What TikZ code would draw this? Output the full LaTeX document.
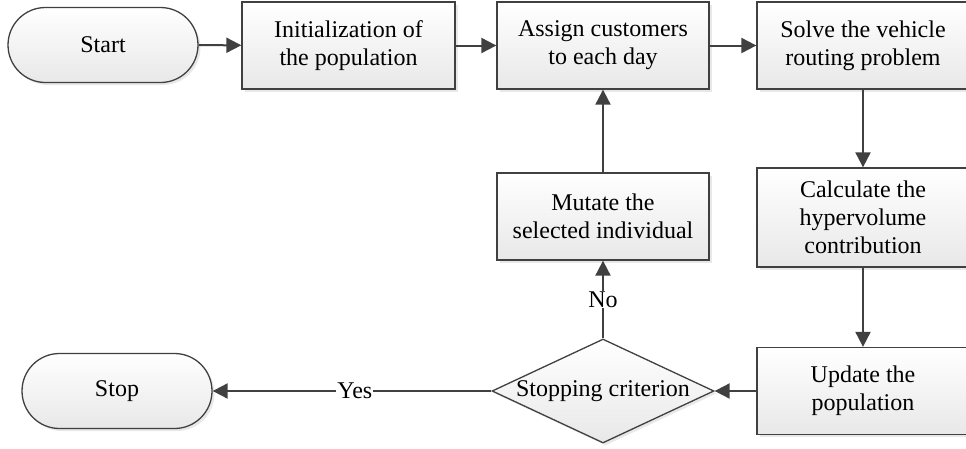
\documentclass[tikz,border=0pt]{standalone}
\usepackage{fontspec}
\setmainfont{Liberation Serif}
\usetikzlibrary{arrows.meta,shapes.geometric,shadows}
\definecolor{edgegray}{HTML}{404040}
\definecolor{fillbot}{HTML}{E8E8E8}
\begin{document}
\begin{tikzpicture}[x=1pt,y=-1pt,
  base/.style={draw=edgegray,line width=1.3pt,top color=white,bottom color=fillbot,
    drop shadow={opacity=0.18,shadow xshift=2.5pt,shadow yshift=-2.5pt},
    font=\fontsize{24}{28}\selectfont,align=center,inner sep=0pt},
  procbox/.style={base,rectangle,minimum width=212pt,minimum height=87pt},
  termbox/.style={base,rectangle,rounded corners=37.5pt,minimum width=190pt,minimum height=75pt},
  decbox/.style={base,diamond,minimum width=222pt,minimum height=104pt,aspect=2.13},
  conn/.style={draw=edgegray,line width=2pt,-{Triangle[length=15pt,width=15pt]}},
  lab/.style={fill=white,inner sep=1pt,font=\fontsize{24}{28}\selectfont}]
\useasboundingbox (0,0) rectangle (966,448);
\clip (0,0) rectangle (966,448);
\node[termbox] (start) at (103,45) {Start};
\node[procbox,minimum width=213pt] (init) at (348.5,45.5) {Initialization of\\the population};
\node[procbox] (assign) at (603,45.5) {Assign customers\\to each day};
\node[procbox] (solve) at (863,45.5) {Solve the vehicle\\routing problem};
\node[procbox,minimum height=99pt] (calc) at (863,217.5) {Calculate the\\hypervolume\\contribution};
\node[procbox] (update) at (863,391) {Update the\\population};
\node[procbox] (mutate) at (603,216.5) {Mutate the\\selected individual};
\node[decbox] (stopc) at (603,391) {\makebox[0pt]{Stopping criterion}};
\node[termbox] (stop) at (117,391) {Stop};
\draw[conn] (start) -- (init);
\draw[conn] (init) -- (assign);
\draw[conn] (assign) -- (solve);
\draw[conn] (solve) -- (calc);
\draw[conn] (calc) -- (update);
\draw[conn] (update) -- (stopc);
\draw[conn] (stopc) -- node[lab,pos=0.5]{No} (mutate);
\draw[conn] (mutate) -- (assign);
\draw[conn] (stopc.west) -- node[lab,pos=0.49]{Yes} (stop);
\end{tikzpicture}
\end{document}
